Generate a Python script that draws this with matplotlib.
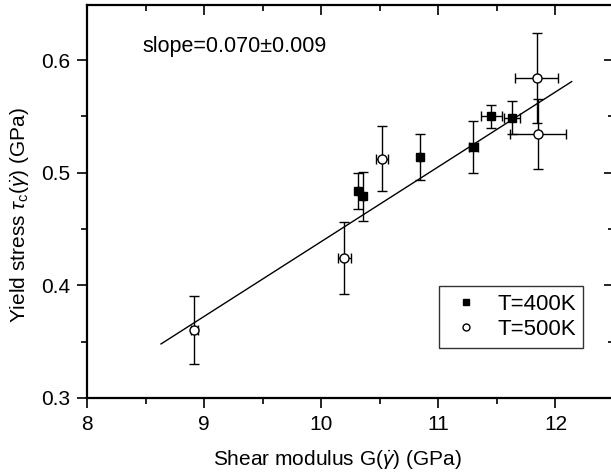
import numpy as np
import matplotlib
matplotlib.use("Agg")
import matplotlib.pyplot as plt
from matplotlib.ticker import MultipleLocator
from matplotlib.lines import Line2D

plt.rcParams['font.family'] = ['Liberation Sans', 'DejaVu Sans']
plt.rcParams['mathtext.fontset'] = 'custom'
plt.rcParams['mathtext.rm'] = 'Liberation Sans'
plt.rcParams['mathtext.it'] = 'Liberation Sans:italic'

# T = 400 K (filled squares)
g400 = [10.31, 10.354, 10.84, 11.30, 11.453, 11.627]
t400 = [0.484, 0.479, 0.514, 0.523, 0.550, 0.549]
t400_err = [0.016, 0.022, 0.020, 0.023, 0.010, 0.015]
g400_err = [0.0, 0.0, 0.0, 0.04, 0.088, 0.07]

# T = 500 K (open circles)
g500 = [8.917, 10.197, 10.522, 11.84, 11.85]
t500 = [0.3604, 0.4246, 0.5126, 0.584, 0.5345]
t500_err = [0.030, 0.032, 0.029, 0.040, 0.031]
g500_err = [0.03, 0.057, 0.05, 0.185, 0.24]

# linear fit line end points
fit_x = [8.632, 12.139]
fit_y = [0.348, 0.581]

fig = plt.figure(figsize=(6.11, 4.76), dpi=100)
ax = fig.add_axes([87 / 611, 1 - 398 / 476, 527 / 611, 393 / 476])

ax.plot(fit_x, fit_y, color='black', lw=1.0)

ax.errorbar(g400, t400, yerr=t400_err, xerr=g400_err, fmt='s', color='black',
            mfc='black', mec='black', ms=6, elinewidth=1, capsize=3.5,
            capthick=1)
ax.errorbar(g500, t500, yerr=t500_err, xerr=g500_err, fmt='o', color='black',
            mfc='white', mec='black', ms=6.5, elinewidth=1, capsize=3.5,
            capthick=1)

ax.set_xlim(8, 12.5)
ax.set_ylim(0.3, 0.649)
ax.xaxis.set_minor_locator(MultipleLocator(0.5))
ax.yaxis.set_minor_locator(MultipleLocator(0.05))
ax.set_xticks([8, 9, 10, 11, 12])
ax.set_xticklabels(['8', '9', '10', '11', '12'])
ax.set_yticks([0.3, 0.4, 0.5, 0.6])
ax.set_yticklabels(['0.3', '0.4', '0.5', '0.6'])

ax.tick_params(which='both', direction='out', top=True, right=True, width=1.2, labelsize=15)
ax.tick_params(which='major', length=7, pad=5)
ax.tick_params(which='minor', length=4)
# top and right ticks point inward
for t in ax.xaxis.get_major_ticks() + ax.xaxis.get_minor_ticks():
    t.tick2line.set_marker(3)
for t in ax.yaxis.get_major_ticks() + ax.yaxis.get_minor_ticks():
    t.tick2line.set_marker(0)

for s in ax.spines.values():
    s.set_linewidth(1.6)

ax.set_xlabel(r'Shear modulus G($\dot{\gamma}$) (GPa)', fontsize=15)
ax.set_ylabel(r'Yield stress $\tau_{\rm c}$($\dot{\gamma}$) (GPa)', fontsize=15)
ax.xaxis.set_label_coords(0.475, -0.128)
ax.yaxis.set_label_coords(-0.106, 0.466)

ax.text(8.47, 0.612, 'slope=0.070\u00b10.009', fontsize=15.5, va='center', ha='left')

handles = [Line2D([], [], marker='s', ls='none', color='black', ms=5),
           Line2D([], [], marker='o', ls='none', mfc='white', mec='black', ms=5)]
leg = ax.legend(handles, ['T=400K', 'T=500K'], loc='lower left',
                bbox_to_anchor=((439 - 87) / 527, (398 - 348) / 393),
                fontsize=16, frameon=True, fancybox=False, edgecolor='black',
                handlelength=1.73, handletextpad=0.53, borderpad=0.35,
                labelspacing=0.2, borderaxespad=0)
leg.get_frame().set_linewidth(1.0)

fig.savefig('out.png', dpi=100)
